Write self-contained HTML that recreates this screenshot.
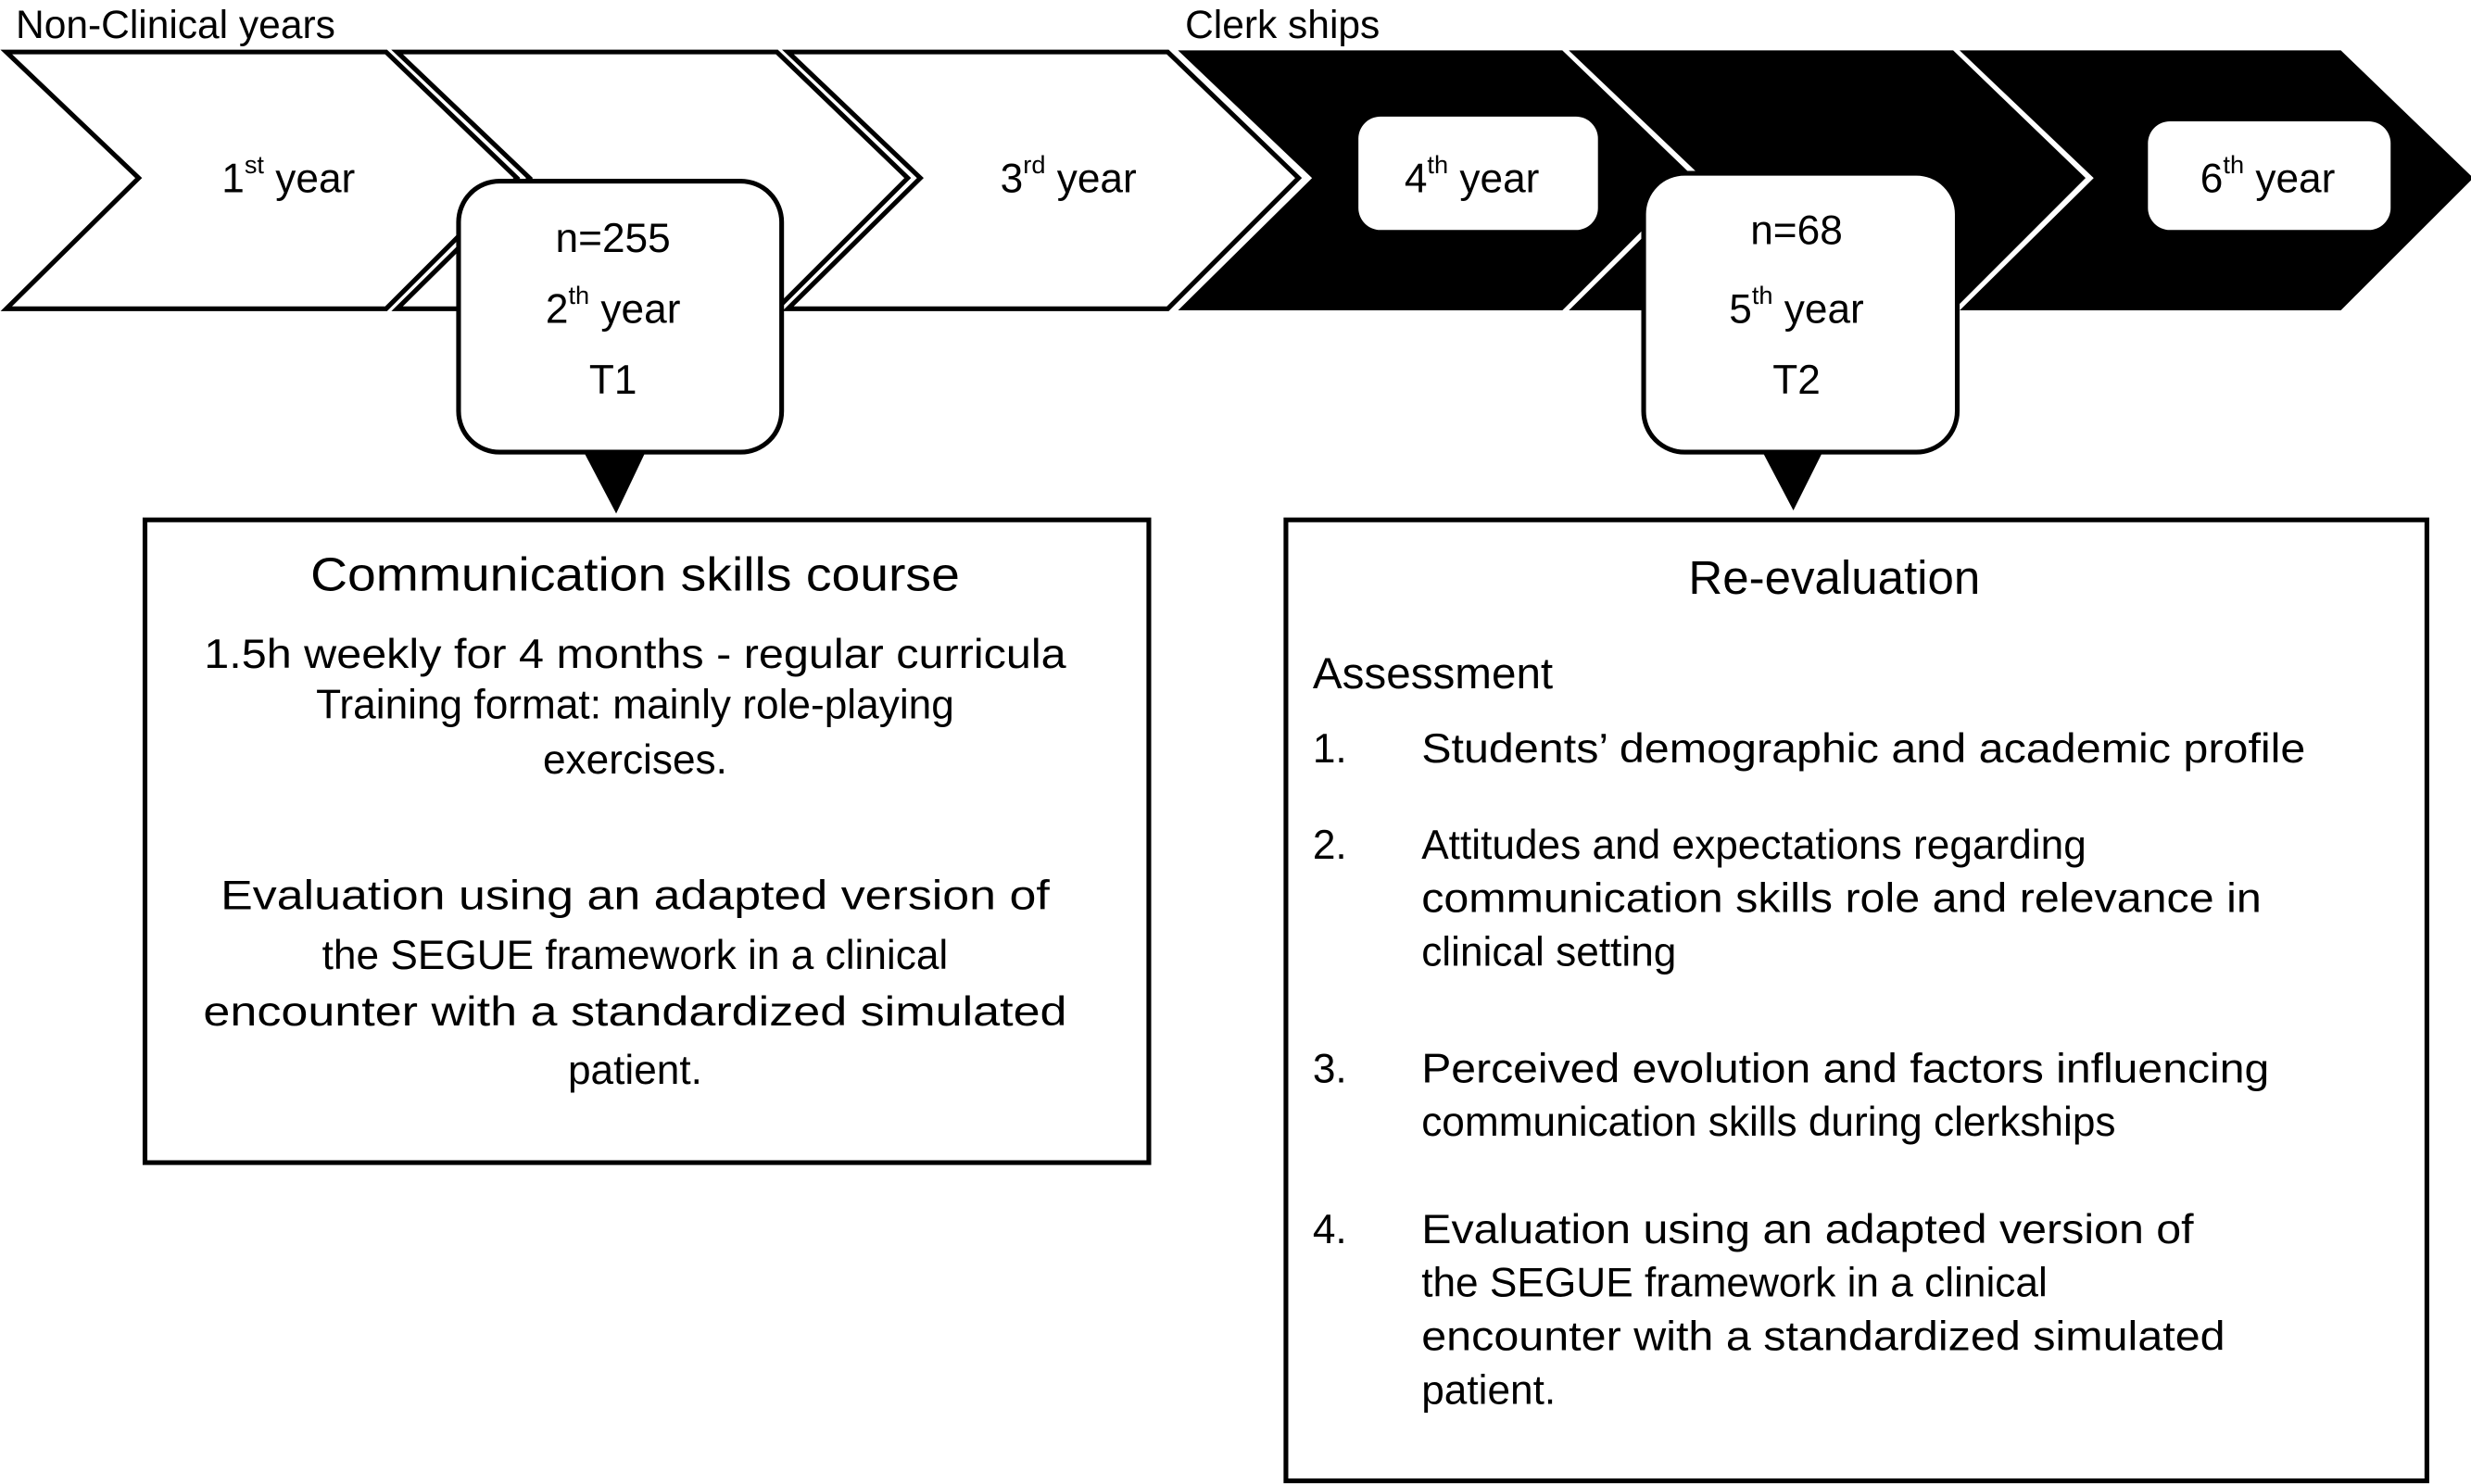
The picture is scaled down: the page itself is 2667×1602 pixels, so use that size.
<!DOCTYPE html>
<html><head><meta charset="utf-8"><style>html,body{margin:0;padding:0;background:#fff}svg{display:block}</style></head>
<body>
<svg width="2667" height="1602" viewBox="0 0 1568 942" preserveAspectRatio="none" xmlns="http://www.w3.org/2000/svg" font-family="Liberation Sans, Arial, sans-serif">
<rect width="1568" height="942" fill="#fff"/>
<text x="10" y="24" font-size="25">Non-Clinical years</text>
<text x="752" y="24" font-size="25">Clerk ships</text>
<g stroke="#000" stroke-width="3" stroke-linejoin="miter">
<polygon points="4,33 245,33 328,113 245,196 4,196 88,113" fill="#fff"/>
<polygon points="252,33 493,33 576,113 493,196 252,196 336,113" fill="#fff"/>
<polygon points="500,33 741,33 824,113 741,196 500,196 584,113" fill="#fff"/>
<polygon points="750,33 991,33 1074,113 991,196 750,196 834,113" fill="#000" stroke-width="2"/>
<polygon points="998,33 1239,33 1322,113 1239,196 998,196 1082,113" fill="#000" stroke-width="2"/>
<polygon points="1246,33 1485,33 1568,113 1485,196 1246,196 1330,113" fill="#000" stroke-width="2"/>
</g>
<text x="183" y="122" font-size="26" text-anchor="middle">1<tspan font-size="16" dy="-12">st</tspan><tspan dy="12"> year</tspan></text>
<text x="678" y="122" font-size="26" text-anchor="middle">3<tspan font-size="16" dy="-12">rd</tspan><tspan dy="12"> year</tspan></text>
<rect x="862" y="74" width="152" height="72" rx="14" fill="#fff"/>
<text x="934" y="122" font-size="26" text-anchor="middle">4<tspan font-size="16" dy="-12">th</tspan><tspan dy="12"> year</tspan></text>
<rect x="1363" y="77" width="154" height="69" rx="14" fill="#fff"/>
<text x="1439" y="122" font-size="26" text-anchor="middle">6<tspan font-size="16" dy="-12">th</tspan><tspan dy="12"> year</tspan></text>
<!-- T1 -->
<rect x="291" y="115" width="205" height="172" rx="26" fill="#fff" stroke="#000" stroke-width="3"/>
<polygon points="370,286 410,286 391,326" fill="#000"/>
<text x="389" y="160" font-size="26" text-anchor="middle">n=255</text>
<text x="389" y="205" font-size="26" text-anchor="middle">2<tspan font-size="16" dy="-12">th</tspan><tspan dy="12"> year</tspan></text>
<text x="389" y="250" font-size="26" text-anchor="middle">T1</text>
<!-- T2 -->
<rect x="1043" y="110" width="199" height="177" rx="26" fill="#fff" stroke="#000" stroke-width="3"/>
<polygon points="1118,286 1157,286 1138,324" fill="#000"/>
<text x="1140" y="155" font-size="26" text-anchor="middle">n=68</text>
<text x="1140" y="205" font-size="26" text-anchor="middle">5<tspan font-size="16" dy="-12">th</tspan><tspan dy="12"> year</tspan></text>
<text x="1140" y="250" font-size="26" text-anchor="middle">T2</text>
<!-- Left box -->
<rect x="92" y="330" width="637" height="408" fill="#fff" stroke="#000" stroke-width="3"/>
<g font-size="26" text-anchor="middle">
<text x="403" y="375" font-size="30" textLength="412" lengthAdjust="spacingAndGlyphs">Communication skills course</text>
<text x="403" y="424" textLength="547" lengthAdjust="spacingAndGlyphs">1.5h weekly for 4 months - regular curricula</text>
<text x="403" y="456">Training format: mainly role-playing</text>
<text x="403" y="491">exercises.</text>
<text x="403" y="577" textLength="526" lengthAdjust="spacingAndGlyphs">Evaluation using an adapted version of</text>
<text x="403" y="615">the SEGUE framework in a clinical</text>
<text x="403" y="651" textLength="548" lengthAdjust="spacingAndGlyphs">encounter with a standardized simulated</text>
<text x="403" y="688">patient.</text>
</g>
<!-- Right box -->
<rect x="816" y="330" width="724" height="610" fill="#fff" stroke="#000" stroke-width="3"/>
<g font-size="26">
<text x="1164" y="377" font-size="30" text-anchor="middle">Re-evaluation</text>
<text x="833" y="437" font-size="28">Assessment</text>
<text x="833" y="484">1.</text><text x="902" y="484" textLength="561" lengthAdjust="spacingAndGlyphs">Students’ demographic and academic profile</text>
<text x="833" y="545">2.</text><text x="902" y="545">Attitudes and expectations regarding</text>
<text x="902" y="579" textLength="533" lengthAdjust="spacingAndGlyphs">communication skills role and relevance in</text>
<text x="902" y="613">clinical setting</text>
<text x="833" y="687">3.</text><text x="902" y="687" textLength="538" lengthAdjust="spacingAndGlyphs">Perceived evolution and factors influencing</text>
<text x="902" y="721">communication skills during clerkships</text>
<text x="833" y="789">4.</text><text x="902" y="789" textLength="490" lengthAdjust="spacingAndGlyphs">Evaluation using an adapted version of</text>
<text x="902" y="823">the SEGUE framework in a clinical</text>
<text x="902" y="857" textLength="510" lengthAdjust="spacingAndGlyphs">encounter with a standardized simulated</text>
<text x="902" y="891">patient.</text>
</g>
</svg>
</body></html>
